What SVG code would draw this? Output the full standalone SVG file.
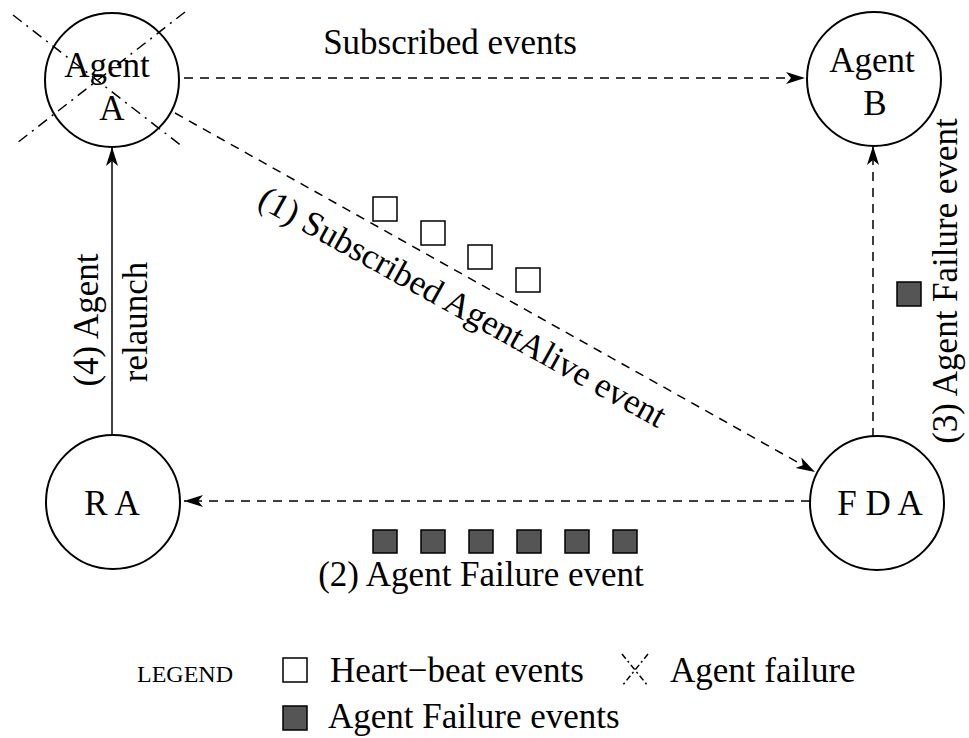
<svg xmlns="http://www.w3.org/2000/svg" width="969" height="738" viewBox="0 0 969 738">
<style>
text{font-family:"Liberation Serif","Times New Roman",serif;font-size:35px;fill:#000}
.c{fill:#fff;stroke:#000;stroke-width:2}
.d{fill:none;stroke:#000;stroke-width:1.5;stroke-dasharray:9 7}
.s{fill:none;stroke:#000;stroke-width:1.5}
.x{fill:none;stroke:#000;stroke-width:1.5;stroke-dasharray:11 6 2 6}
.hb{fill:#fff;stroke:#000;stroke-width:1.5}
.af{fill:#555;stroke:#000;stroke-width:1.5}
</style>
<defs>
<marker id="ah" markerWidth="20" markerHeight="14" refX="19" refY="7" orient="auto" markerUnits="userSpaceOnUse">
<path d="M0,1 L19,7 L0,13 L5,7 z" fill="#000"/>
</marker>
</defs>
<g id="connectors">
<line class="d" x1="184" y1="78" x2="805" y2="78" marker-end="url(#ah)"/>
<line class="d" x1="175" y1="113" x2="815" y2="472" marker-end="url(#ah)"/>
<line class="d" x1="810" y1="501" x2="184" y2="501" marker-end="url(#ah)"/>
<line class="d" x1="873" y1="437" x2="873" y2="146" marker-end="url(#ah)"/>
<line class="s" x1="112" y1="436" x2="112" y2="147" marker-end="url(#ah)"/>
</g>
<g id="agentA">
<circle class="c" cx="112" cy="80" r="67"/>
<text x="107" y="77" text-anchor="middle">Agent</text>
<text x="112" y="120" text-anchor="middle">A</text>
<line class="x" x1="13" y1="15" x2="183" y2="147"/>
<line class="x" x1="185" y1="12" x2="17" y2="143"/>
</g>
<g id="agentB">
<circle class="c" cx="874" cy="79" r="67"/>
<text x="872" y="72" text-anchor="middle">Agent</text>
<text x="875" y="115" text-anchor="middle">B</text>
</g>
<g id="ra">
<circle class="c" cx="113" cy="502" r="67"/>
<text x="112" y="515" text-anchor="middle">R A</text>
</g>
<g id="fda">
<circle class="c" cx="877" cy="503" r="67"/>
<text x="880" y="515" text-anchor="middle">F D A</text>
</g>
<g id="labels">
<text x="450" y="54" text-anchor="middle">Subscribed events</text>
<text x="457" y="317" text-anchor="middle" transform="rotate(29 457 317)">(1) Subscribed AgentAlive event</text>
<text x="481" y="586" text-anchor="middle">(2) Agent Failure event</text>
<text x="957" y="281" text-anchor="middle" transform="rotate(-90 957 281)">(3) Agent Failure event</text>
<text x="98" y="320" text-anchor="middle" transform="rotate(-90 98 320)">(4) Agent</text>
<text x="147" y="322" text-anchor="middle" transform="rotate(-90 147 322)">relaunch</text>
</g>
<g id="heartbeats">
<rect class="hb" x="373" y="197" width="24" height="24"/>
<rect class="hb" x="421" y="221" width="24" height="24"/>
<rect class="hb" x="468" y="245" width="24" height="24"/>
<rect class="hb" x="516" y="268" width="24" height="24"/>
</g>
<g id="failures">
<rect class="af" x="373" y="530" width="24" height="23"/>
<rect class="af" x="421" y="530" width="24" height="23"/>
<rect class="af" x="469" y="530" width="24" height="23"/>
<rect class="af" x="517" y="530" width="24" height="23"/>
<rect class="af" x="565" y="530" width="24" height="23"/>
<rect class="af" x="613" y="530" width="24" height="23"/>
<rect class="af" x="897" y="282" width="24" height="24"/>
</g>
<g id="legend">
<text x="137" y="682" style="font-size:24px">LEGEND</text>
<rect class="hb" x="283" y="658" width="24" height="24"/>
<text x="330" y="682">Heart−beat events</text>
<line stroke="#000" stroke-width="1.5" stroke-dasharray="6 3 2 3" x1="622" y1="654" x2="648" y2="686"/>
<line stroke="#000" stroke-width="1.5" stroke-dasharray="6 3 2 3" x1="648" y1="654" x2="622" y2="686"/>
<text x="670" y="682">Agent failure</text>
<rect class="af" x="283" y="706" width="24" height="24"/>
<text x="328" y="728">Agent Failure events</text>
</g>
</svg>
